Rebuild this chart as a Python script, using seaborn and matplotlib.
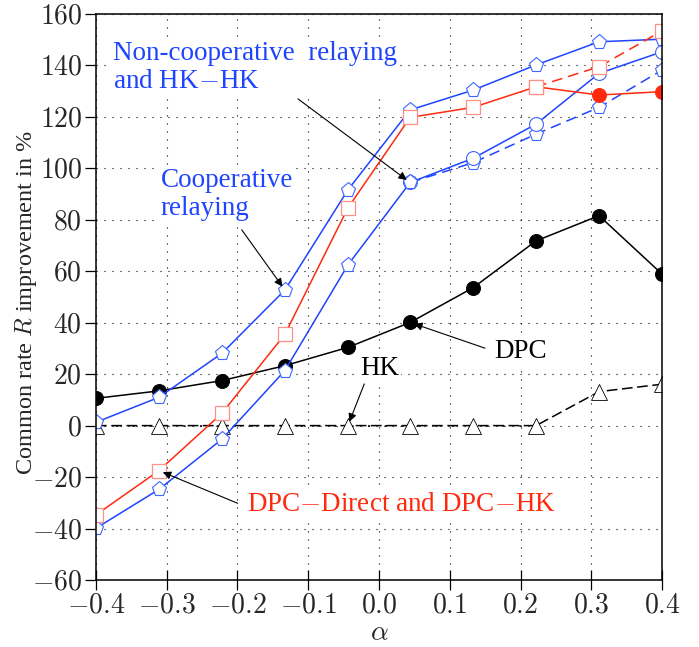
import numpy as np
import pandas as pd
import matplotlib
matplotlib.use("Agg")
import matplotlib.pyplot as plt
import seaborn as sns

# alpha grid
alpha = [-0.4, -0.311, -0.222, -0.133, -0.044, 0.044, 0.133, 0.222, 0.311, 0.4]

dpc = [10.6, 13.5, 17.5, 23.3, 30.4, 40.1, 53.6, 71.8, 81.6, 58.9]
hk = [0, 0, 0, 0, 0, 0, 0, 0, 13.2, 16.1]
hk_base = [0, 0, 0, 0, 0, 0, 0, 0]
coop = [1.3, 11.0, 28.1, 52.7, 91.6, 122.7, 130.4, 140.2, 149.2, 150.2]
noncoop = [-39.9, -24.8, -5.3, 21.4, 62.4, 94.5]
noncoop_tail = [94.5, 103.9, 117.2, 136.9, 145.3]
hkhk_tail = [94.5, 102.2, 113.3, 123.7, 138.2]
dpc_direct = [-34.7, -17.5, 4.8, 35.5, 84.6, 119.8, 123.7, 131.7]
dpc_direct_tail = [131.7, 128.5, 129.8]
dpc_hk_tail = [131.7, 139.5, 153.4]

BLUE = "#1f44ff"
BLUE_EDGE = "#3f66ff"
RED = "#ff2a0e"
RED_EDGE = "#ff9088"

sns.set_theme(style="white")
plt.rcParams["font.family"] = ["Liberation Serif", "DejaVu Serif"]
plt.rcParams["mathtext.fontset"] = "cm"

fig = plt.figure(figsize=(6.99, 6.47), dpi=100)
ax = fig.add_axes([0.1373, 0.1036, 0.9471 - 0.1373, 0.9784 - 0.1036])

lw = 1.1

# HK: zero part looks dash-dotted (two dashed lines overlapping)
sns.lineplot(x=alpha[:8], y=hk_base, ax=ax, color="black", lw=lw,
             linestyle=(9, (1.5, 9.5)), sort=False, estimator=None)
sns.lineplot(x=alpha, y=hk, ax=ax, color="black", lw=lw,
             linestyle=(0, (7, 3)), marker="^", markersize=12,
             markerfacecolor="white", markeredgecolor="black",
             markeredgewidth=0.6, sort=False, estimator=None)

# DPC
sns.lineplot(x=alpha, y=dpc, ax=ax, color="black", lw=lw, marker="o",
             markersize=10, markerfacecolor="black", markeredgecolor="black",
             sort=False, estimator=None)

# blue: relaying schemes
sns.lineplot(x=alpha[5:], y=hkhk_tail, ax=ax, color=BLUE, lw=lw,
             linestyle=(0, (7, 4)), marker="p", markersize=11,
             markerfacecolor="white", markeredgecolor=BLUE_EDGE,
             markeredgewidth=0.8, sort=False, estimator=None)
sns.lineplot(x=alpha[5:], y=noncoop_tail, ax=ax, color=BLUE, lw=lw,
             marker="o", markersize=10, markerfacecolor="white",
             markeredgecolor=BLUE_EDGE, markeredgewidth=0.8,
             sort=False, estimator=None)
sns.lineplot(x=alpha[:6], y=noncoop, ax=ax, color=BLUE, lw=lw, marker="p",
             markersize=11, markerfacecolor="white", markeredgecolor=BLUE_EDGE,
             markeredgewidth=0.8, sort=False, estimator=None)
sns.lineplot(x=alpha, y=coop, ax=ax, color=BLUE, lw=lw, marker="p",
             markersize=11, markerfacecolor="white", markeredgecolor=BLUE_EDGE,
             markeredgewidth=0.8, sort=False, estimator=None)

# red: DPC-Direct / DPC-HK
sns.lineplot(x=alpha[7:], y=dpc_hk_tail, ax=ax, color=RED, lw=lw,
             linestyle=(0, (7, 4)), marker="s", markersize=10,
             markerfacecolor="white", markeredgecolor=RED_EDGE,
             markeredgewidth=0.9, sort=False, estimator=None)
sns.lineplot(x=alpha[7:], y=dpc_direct_tail, ax=ax, color=RED, lw=lw,
             marker="o", markersize=10, markevery=[1, 2],
             markerfacecolor=RED, markeredgecolor=RED,
             sort=False, estimator=None)
sns.lineplot(x=alpha[:8], y=dpc_direct, ax=ax, color=RED, lw=lw, marker="s",
             markersize=10, markerfacecolor="white", markeredgecolor=RED_EDGE,
             markeredgewidth=0.9, sort=False, estimator=None)

ax.set_xlim(-0.4, 0.4)
ax.set_ylim(-60, 160)
ax.set_xticks(np.arange(-0.4, 0.41, 0.1))
ax.set_yticks(np.arange(-60, 161, 20))
ax.xaxis.set_major_formatter(
    plt.FuncFormatter(lambda v, p: r"$%.1f$" % (round(v, 1) + 0.0)))
ax.yaxis.set_major_formatter(plt.FuncFormatter(lambda v, p: r"$%d$" % v))
ax.tick_params(axis="x", direction="inout", length=14, width=0.9,
               labelsize=20, color="black", bottom=True, pad=3)
ax.tick_params(axis="y", direction="out", length=8, width=0.9,
               labelsize=20, color="black", left=True, pad=2)
for s in ax.spines.values():
    s.set_color("black")
    s.set_linewidth(1.1)

ax.grid(True, color="black", linestyle=(0, (1, 6.2)), linewidth=0.8)
ax.set_axisbelow(True)

ax.set_xlabel(r"$\alpha$", fontsize=20)
ax.xaxis.set_label_coords(0.5, -0.072)
ax.set_ylabel(r"Common rate $R$ improvement in %", fontsize=17.5)
ax.yaxis.set_label_coords(-0.1, 0.49)

box = dict(facecolor="white", edgecolor="none", pad=1)
tsize = 19.5
arrow = dict(arrowstyle="-|>", color="black", lw=0.8, mutation_scale=12,
             shrinkA=0, shrinkB=3)

ax.text(-0.3764, 131.2, "Non-cooperative  relaying\nand HK$-$HK", color=BLUE,
        fontsize=tsize, ha="left", va="baseline", bbox=box, linespacing=1.15)
ax.annotate("", xy=(alpha[5], noncoop[5]), xytext=(-0.1145, 127),
            arrowprops=arrow)

ax.text(-0.3086, 81.9, "Cooperative\nrelaying", color=BLUE, fontsize=tsize,
        ha="left", va="baseline", bbox=box, linespacing=1.15)
ax.annotate("", xy=(alpha[3], coop[3]), xytext=(-0.194, 76.1),
            arrowprops=arrow)

ax.text(-0.0259, 19.7, "HK", color="black", fontsize=tsize, ha="left",
        va="baseline", bbox=box)
ax.annotate("", xy=(alpha[4], hk[4]), xytext=(-0.0208, 16.2),
            arrowprops=arrow)

ax.text(0.1626, 26.2, "DPC", color="black", fontsize=tsize, ha="left",
        va="baseline", bbox=box)
ax.annotate("", xy=(alpha[5], dpc[5]), xytext=(0.1498, 30.1),
            arrowprops=arrow)

ax.text(-0.1861, -33.2, "DPC$-$Direct and DPC$-$HK", color=RED,
        fontsize=tsize, ha="left", va="baseline", bbox=box)
ax.annotate("", xy=(alpha[1], dpc_direct[1]), xytext=(-0.1997, -30.2),
            arrowprops=arrow)

fig.savefig("out.png", dpi=100)
